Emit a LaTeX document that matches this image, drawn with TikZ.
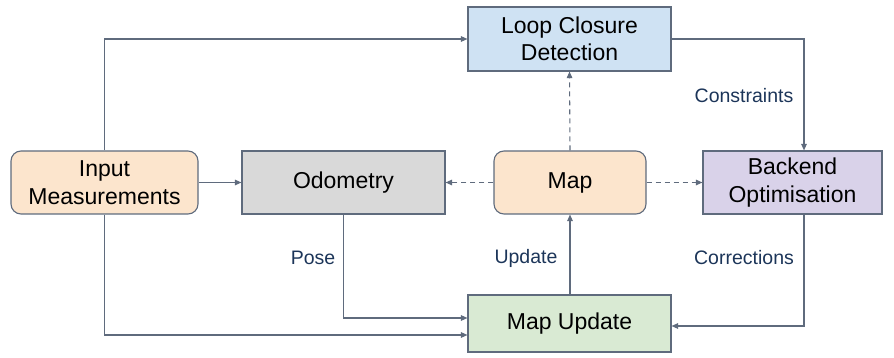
\documentclass[tikz,border=0pt]{standalone}
\usepackage{fontspec}
\setmainfont{Liberation Sans}
\usetikzlibrary{arrows.meta}
\definecolor{edge}{HTML}{5F6B7D}
\definecolor{labelc}{HTML}{1C3559}
\definecolor{fblue}{HTML}{CFE2F3}
\definecolor{fpeach}{HTML}{FCE5CD}
\definecolor{fgray}{HTML}{D9D9D9}
\definecolor{fviolet}{HTML}{D9D2E9}
\definecolor{fgreen}{HTML}{D9EAD3}
\tikzset{
  box/.style={draw=edge, line width=1.1pt, minimum height=63pt, inner sep=0pt,
    align=center, font=\fontsize{23}{27.5}\selectfont, text=black},
  rbox/.style={box, rounded corners=10pt},
  conn/.style={draw=edge, line width=1.1pt, -{Triangle[length=6.5pt,width=5.5pt]}},
  dconn/.style={conn, dash pattern=on 5pt off 4pt},
  lbl/.style={text=labelc, font=\fontsize{19.5}{23}\selectfont, inner sep=0pt}
}
\begin{document}
\begin{tikzpicture}[x=1pt,y=-1pt]
\useasboundingbox (0,0) rectangle (894,358);
\node[box, fill=fblue, minimum width=203pt, minimum height=64pt] (loop) at (569.5,39) {Loop Closure\\Detection};
\node[rbox, fill=fpeach, minimum width=187pt] (input) at (104.5,182.5) {Input\\Measurements};
\node[box, fill=fgray, minimum width=203pt] (odo) at (343.5,182.5) {Odometry};
\node[rbox, fill=fpeach, minimum width=152pt] (map) at (570,182.5) {Map};
\node[box, fill=fviolet, minimum width=179pt] (back) at (792.5,182.5) {Backend\\Optimisation};
\node[box, fill=fgreen, minimum width=203pt, minimum height=57pt] (upd) at (569.5,323.5) {Map Update};

\coordinate (c1) at (104.5,39);
\coordinate (c2) at (804,39);
\coordinate (c3) at (804,326);
\coordinate (c4) at (343.5,318);
\coordinate (c5) at (104.5,335);

\draw[conn] (input.north) -- (c1) -- (loop.west);
\draw[conn] (input.east) -- (odo.west);
\draw[dconn] (map.west) -- (odo.east);
\draw[dconn] (map.east) -- (back.west);
\draw[dconn] (map.north) -- (loop.south);
\draw[conn] (loop.east |- c2) -- (c2) -- (back.north -| c2);
\draw[conn] (back.south -| c3) -- (c3) -- (upd.east |- c3);
\draw[conn] (odo.south) -- (c4) -- (upd.west |- c4);
\draw[conn] (input.south) -- (c5) -- (upd.west |- c5);
\draw[conn] (upd.north -| map.south) -- (map.south);

\node[lbl] (lc) at (744,96) {Constraints};
\node[lbl] (lcorr) at (744,258) {Corrections};
\node[lbl] (lu) at (526,258) {Update};
\node[lbl] (lp) at (313,258) {Pose};
\end{tikzpicture}
\end{document}
